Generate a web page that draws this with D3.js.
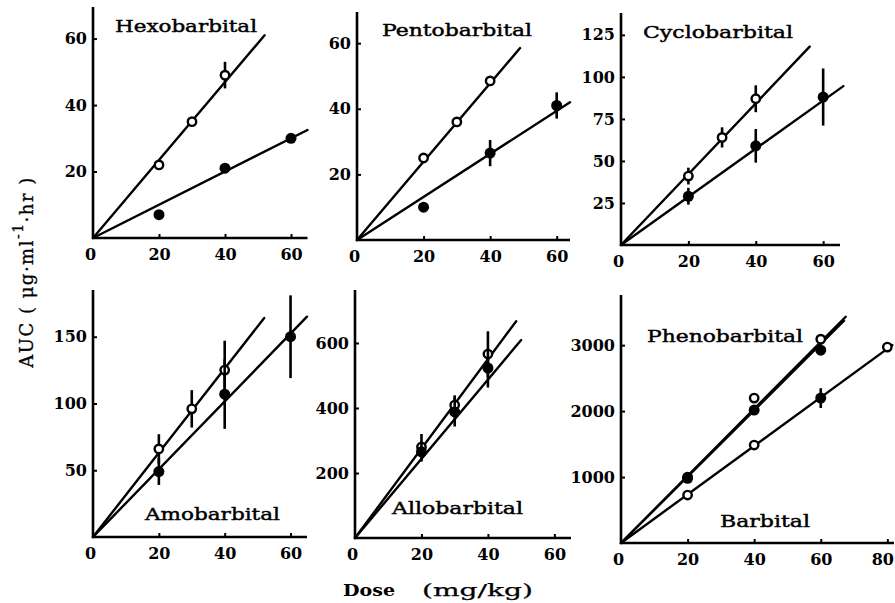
<!DOCTYPE html>
<html>
<head>
<meta charset="utf-8">
<script src="https://cdn.jsdelivr.net/npm/d3@7"></script>
<style>
  html, body { margin: 0; padding: 0; background: #fff; }
  svg { display: block; }
</style>
</head>
<body>
<svg id="chart" width="895" height="603"></svg>
<script>
// ---------------- DATA ----------------
const panelNames = ["Hexobarbital", "Pentobarbital", "Cyclobarbital", "Amobarbital", "Allobarbital", "Phenobarbital"];
const extraLabel = "Barbital";
const xTickValues = [[0, 20, 40, 60], [0, 20, 40, 60], [0, 20, 40, 60], [0, 20, 40, 60], [0, 20, 40, 60], [0, 20, 40, 60, 80]];
const yTickValues = [[20, 40, 60], [20, 40, 60], [25, 50, 75, 100, 125], [50, 100, 150], [200, 400, 600], [1000, 2000, 3000]];
const xMax = [65, 64, 65, 65, 65, 82];
const yMax = [69.5, 69.5, 138, 185, 763, 3760];

// each series: marker type, doses, AUC means, +/- error
const hexobarbital = [
  { type: "open",   dose: [20, 30, 40], auc: [22, 35, 49],   err: [0, 0, 4] },
  { type: "filled", dose: [20, 40, 60], auc: [7, 21, 30],    err: [0, 0, 0] }
];
const pentobarbital = [
  { type: "open",   dose: [20, 30, 40], auc: [25, 36, 48.5], err: [0, 0, 0] },
  { type: "filled", dose: [20, 40, 60], auc: [10, 26.5, 41], err: [0, 4, 4] }
];
const cyclobarbital = [
  { type: "open",   dose: [20, 30, 40], auc: [41, 64, 87],   err: [5, 6, 8] },
  { type: "filled", dose: [20, 40, 60], auc: [29, 59, 88],   err: [5, 10, 17] }
];
const amobarbital = [
  { type: "open",   dose: [20, 30, 40], auc: [66, 96, 125],  err: [11, 14, 22] },
  { type: "filled", dose: [20, 40, 60], auc: [49, 107, 150], err: [10, 26, 31] }
];
const allobarbital = [
  { type: "open",   dose: [20, 30, 40], auc: [280, 409, 566], err: [40, 30, 70] },
  { type: "filled", dose: [20, 30, 40], auc: [265, 388, 523], err: [30, 45, 60] }
];
const phenoBarbital = [
  { type: "open",   dose: [20, 40, 60], auc: [1000, 2197, 3090], err: [60, 60, 60] },
  { type: "filled", dose: [20, 40, 60], auc: [980, 2015, 2924],  err: [40, 60, 60] },
  { type: "open",   dose: [20, 40, 80], auc: [727, 1485, 2970],  err: [60, 40, 40] },
  { type: "filled", dose: [60],         auc: [2197],             err: [150] }
];
const panelSeries = [hexobarbital, pentobarbital, cyclobarbital, amobarbital, allobarbital, phenoBarbital];

// regression lines drawn from the origin to these end points [dose, AUC]
const regressionEnds = [
  [[52, 61], [65, 32.5]],
  [[49, 58.5], [64, 42]],
  [[56, 118], [66, 94.5]],
  [[52, 164], [65, 165]],
  [[48.5, 667], [50, 609]],
  [[67.5, 3430], [67, 3370], [81.5, 3000]]
];

const yAxisTitle = ["AUC   (  μg·ml", "-1", "·hr  )"];
const xAxisTitle = ["Dose", "(mg/kg)"];

// ---------------- LAYOUT ----------------
const boxes = [
  { left: 93,  bottom: 238, right: 307.5, top: 7 },
  { left: 357, bottom: 240, right: 570,   top: 12 },
  { left: 621, bottom: 245, right: 840,   top: 13 },
  { left: 93,  bottom: 537, right: 307,   top: 290 },
  { left: 355, bottom: 538, right: 571,   top: 290 },
  { left: 621, bottom: 543, right: 894,   top: 295 }
];
const titlePos = [
  { x: 115, y: 32,  len: 142 },
  { x: 382, y: 36,  len: 150 },
  { x: 643, y: 38,  len: 150 },
  { x: 145, y: 520, len: 135 },
  { x: 392, y: 514, len: 131 },
  { x: 647, y: 342, len: 156 }
];
const extraPos = { x: 720, y: 527, len: 90 };

const FONT = "'DejaVu Serif', 'Liberation Serif', serif";
const svg = d3.select("#chart");

panelNames.forEach((name, i) => {
  const b = boxes[i];
  const x = d3.scaleLinear().domain([0, xMax[i]]).range([b.left, b.right]);
  const y = d3.scaleLinear().domain([0, yMax[i]]).range([b.bottom, b.top]);
  const g = svg.append("g");

  // axes lines
  g.append("line").attr("x1", x(0)).attr("x2", x(0)).attr("y1", y(0) + 1).attr("y2", y(yMax[i]))
    .attr("stroke", "#000").attr("stroke-width", 2.6);
  g.append("line").attr("x1", x(0) - 1).attr("x2", x(xMax[i])).attr("y1", y(0)).attr("y2", y(0))
    .attr("stroke", "#000").attr("stroke-width", 2.6);

  // x axis via d3 axis (ticks pointing up)
  const xAxis = d3.axisBottom(x).tickValues(xTickValues[i]).tickSize(-4).tickPadding(11).tickFormat(d3.format("d"));
  const xg = g.append("g").attr("transform", `translate(0,${y(0)})`).call(xAxis);
  xg.select(".domain").remove();
  xg.selectAll(".tick line").attr("stroke", "#000").attr("stroke-width", 2).filter(d => d === 0).remove();
  xg.selectAll(".tick text").attr("font-family", FONT).attr("font-weight", "bold").attr("font-size", 16)
    .attr("fill", "#000").attr("dx", d => d === 0 ? -3 : (d === 80 ? -5 : 0));

  // y axis (ticks pointing right, into the plot)
  const yAxis = d3.axisLeft(y).tickValues(yTickValues[i]).tickSize(-4).tickPadding(6).tickFormat(d3.format("d"));
  const yg = g.append("g").attr("transform", `translate(${x(0)},0)`).call(yAxis);
  yg.select(".domain").remove();
  yg.selectAll(".tick line").attr("stroke", "#000").attr("stroke-width", 2);
  yg.selectAll(".tick text").attr("font-family", FONT).attr("font-weight", "bold").attr("font-size", 16)
    .attr("fill", "#000");

  // regression lines
  regressionEnds[i].forEach(e => {
    g.append("line").attr("x1", x(0)).attr("y1", y(0)).attr("x2", x(e[0])).attr("y2", y(e[1]))
      .attr("stroke", "#000").attr("stroke-width", 2.4).attr("stroke-linecap", "round");
  });

  // error bars + markers
  panelSeries[i].forEach(s => {
    s.dose.forEach((d, k) => {
      if (s.err[k] > 0) {
        g.append("line").attr("x1", x(d)).attr("x2", x(d))
          .attr("y1", y(s.auc[k] - s.err[k])).attr("y2", y(s.auc[k] + s.err[k]))
          .attr("stroke", "#000").attr("stroke-width", 2.6);
      }
    });
    g.selectAll(null).data(s.dose.map((d, k) => [d, s.auc[k]])).enter().append("circle")
      .attr("cx", d => x(d[0])).attr("cy", d => y(d[1]))
      .attr("r", s.type === "open" ? 4.2 : 5.5)
      .attr("fill", s.type === "open" ? "#fff" : "#000")
      .attr("stroke", "#000").attr("stroke-width", s.type === "open" ? 2.4 : 0);
  });

  // panel title
  const tp = titlePos[i];
  g.append("text").attr("x", tp.x).attr("y", tp.y).text(name)
    .attr("font-family", FONT).attr("font-size", 17.5).attr("fill", "#000")
    .attr("stroke", "#000").attr("stroke-width", 0.45)
    .attr("textLength", tp.len).attr("lengthAdjust", "spacingAndGlyphs");
});

// Barbital label in last panel
svg.append("text").attr("x", extraPos.x).attr("y", extraPos.y).text(extraLabel)
  .attr("font-family", FONT).attr("font-size", 17.5).attr("fill", "#000")
  .attr("stroke", "#000").attr("stroke-width", 0.45)
  .attr("textLength", extraPos.len).attr("lengthAdjust", "spacingAndGlyphs");

// y axis title (rotated)
const yt = svg.append("text").attr("transform", "translate(33,272) rotate(-90)")
  .attr("text-anchor", "middle").attr("font-family", FONT).attr("font-size", 18).attr("fill", "#000")
  .attr("stroke", "#000").attr("stroke-width", 0.3).attr("letter-spacing", 1.5);
yt.append("tspan").text(yAxisTitle[0]);
yt.append("tspan").attr("dy", -10).attr("font-size", 14).text(yAxisTitle[1]);
yt.append("tspan").attr("dy", 10).text(yAxisTitle[2]);

// x axis title
const xt = svg.append("text").attr("y", 596).attr("font-family", FONT).attr("font-size", 17)
  .attr("fill", "#000");
xt.append("tspan").attr("x", 343).text(xAxisTitle[0]).attr("font-weight", "bold")
  .attr("textLength", 52).attr("lengthAdjust", "spacingAndGlyphs");
xt.append("tspan").attr("x", 422).text(xAxisTitle[1]).attr("stroke", "#000").attr("stroke-width", 0.25)
  .attr("textLength", 111).attr("lengthAdjust", "spacingAndGlyphs");
</script>
</body>
</html>
